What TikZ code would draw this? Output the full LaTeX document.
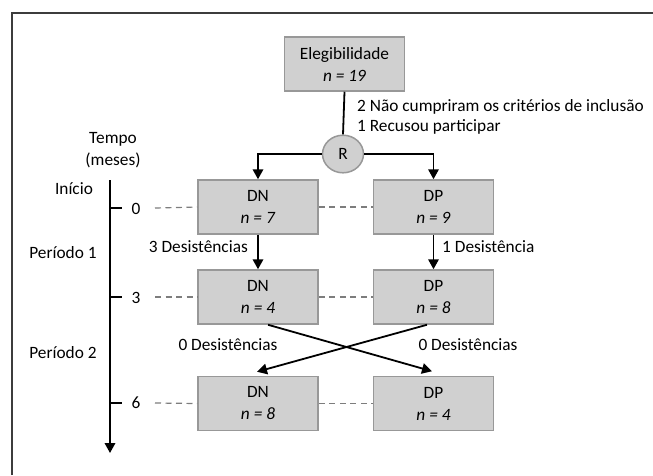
\documentclass[tikz,border=0pt]{standalone}
\usepackage{fontspec}
\setmainfont{Carlito}
\usetikzlibrary{arrows.meta,calc,shapes.geometric}
\definecolor{boxfill}{RGB}{208,208,208}
\definecolor{boxline}{RGB}{152,152,152}
\definecolor{dashcol}{RGB}{125,125,125}
\definecolor{framecol}{RGB}{60,60,60}
\begin{document}
\begin{tikzpicture}[x=1pt,y=-1pt,
  every node/.style={font=\fontsize{17.3}{22}\selectfont},
  gbox/.style={draw=boxline,fill=boxfill,line width=1.5pt,minimum width=120pt,minimum height=54pt,inner sep=0pt,align=center},
  arr/.style={line width=1.8pt,-{Triangle[width=10.5pt,length=10pt]}},
  plain/.style={line width=1.8pt},
  dline/.style={dashcol,line width=1.2pt,dash pattern=on 6pt off 4.5pt},
  lbl/.style={inner sep=0pt}]
\useasboundingbox (0,0) rectangle (653,475);
% frame
\draw[framecol,line width=1.5pt] (12,475) -- (12,13) -- (653,13);
% nodes
\node[gbox] (el) at (344.5,64) {Elegibilidade\\\textit{n = 19}};
\node[draw=boxline,fill=boxfill,line width=1.5pt,ellipse,minimum width=41pt,minimum height=37.6pt,inner sep=0pt] (r) at (343,154) {R};
\node[gbox] (dn1) at (258,207) {DN\\\textit{n = 7}};
\node[gbox] (dp1) at (433.5,207) {DP\\\textit{n = 9}};
\node[gbox] (dn2) at (258,297) {DN\\\textit{n = 4}};
\node[gbox] (dp2) at (433.5,297) {DP\\\textit{n = 8}};
\node[gbox] (dn3) at (258,403.5) {DN\\\textit{n = 8}};
\node[gbox] (dp3) at (433.5,403.5) {DP\\\textit{n = 4}};
% labels
\node[lbl,anchor=west] (ex1) at (357,107) {2 Não cumpriram os critérios de inclusão};
\node[lbl,anchor=west] (ex2) at (357,127) {1 Recusou participar};
\node[lbl] (tempo) at (113,139) {Tempo};
\node[lbl] (meses) at (113,160) {(meses)};
\node[lbl] (inicio) at (74,189) {Início};
\node[lbl] (per1) at (63,253) {Período 1};
\node[lbl] (per2) at (63,353) {Período 2};
\node[lbl] (t0) at (136,209) {0};
\node[lbl] (t3) at (136,298) {3};
\node[lbl] (t6) at (136,403) {6};
\node[lbl,anchor=east] (d1) at (248,247) {3 Desistências};
\node[lbl,anchor=west] (d2) at (442,247) {1 Desistência};
\node[lbl] (d3) at (228,345) {0 Desistências};
\node[lbl] (d4) at (468,345) {0 Desistências};
% time axis
\coordinate (axtop) at (110,180);
\coordinate (axend) at (110,453);
\draw[arr] (axtop) -- (axend);
\draw[plain] (110,208) -- (122,208);
\draw[plain] (110,297) -- (122,297);
\draw[plain] (110,403) -- (122,403);
% dashed lines
\draw[dline] (155,208) -- (dn1.west);
\draw[dline] (dn1.east) -- (dp1.west);
\draw[dline] (155,297) -- (dn2.west);
\draw[dline] (dn2.east) -- (dp2.west);
\draw[dline] (155,403) -- (dn3.west);
\draw[dline] (dn3.east) -- (dp3.west);
% connectors
\draw[plain] (el.south) -- (r.north);
\draw[arr] (r.west) -| (dn1.north);
\draw[arr] (r.east) -| (dp1.north);
\draw[arr] (dn1.south) -- (dn2.north);
\draw[arr] (dp1.south) -- (dp2.north);
\draw[arr] ($(dn2.south)+(10,0)$) -- ($(dp3.north)+(-1.5,-4.5)$);
\draw[arr] ($(dp2.south)+(-6.5,0)$) -- ($(dn3.north)+(-1,-4)$);
\end{tikzpicture}
\end{document}
